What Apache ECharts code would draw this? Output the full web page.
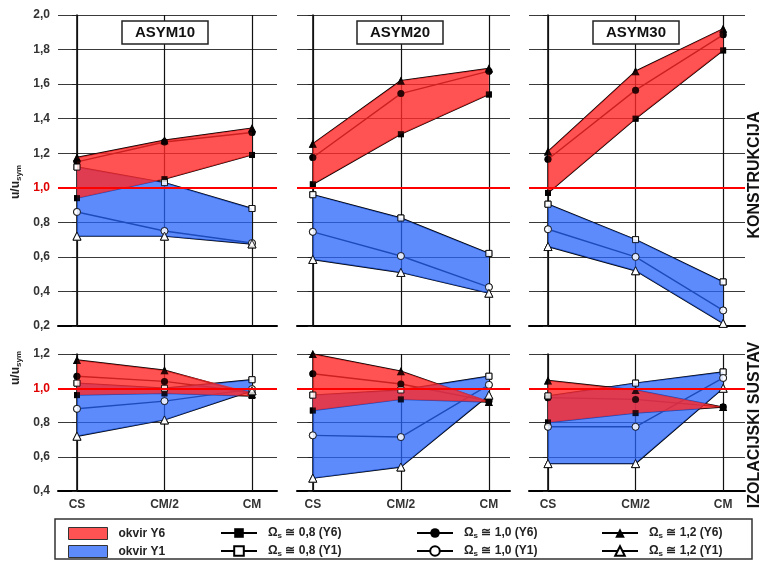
<!DOCTYPE html>
<html><head><meta charset="utf-8">
<script src="https://cdn.jsdelivr.net/npm/echarts@6/dist/echarts.min.js"></script>
<style>html,body{margin:0;padding:0;background:#fff}#c{width:762px;height:561px}</style>
</head><body><div id="c"></div>
<script>
// ---------- data ----------
const categories = ['CS', 'CM/2', 'CM'];
const panelTitles = ['ASYM10', 'ASYM20', 'ASYM30'];
const rowLabels = ['KONSTRUKCIJA', 'IZOLACIJSKI SUSTAV'];
const yTicksTop = [0.2, 0.4, 0.6, 0.8, 1.0, 1.2, 1.4, 1.6, 1.8, 2.0];
const yTicksBottom = [0.4, 0.6, 0.8, 1.0, 1.2];
const refValue = 1.0;
const namesY6 = ['Ωs ≅ 0,8 (Y6)', 'Ωs ≅ 1,0 (Y6)', 'Ωs ≅ 1,2 (Y6)'];
const namesY1 = ['Ωs ≅ 0,8 (Y1)', 'Ωs ≅ 1,0 (Y1)', 'Ωs ≅ 1,2 (Y1)'];
const bandNames = ['okvir Y6', 'okvir Y1'];

// KONSTRUKCIJA (top row)
const K10_Y6_08 = [0.94, 1.05, 1.19];
const K10_Y6_10 = [1.15, 1.265, 1.32];
const K10_Y6_12 = [1.175, 1.275, 1.345];
const K10_Y1_08 = [1.12, 1.03, 0.88];
const K10_Y1_10 = [0.86, 0.75, 0.68];
const K10_Y1_12 = [0.72, 0.72, 0.675];
const K20_Y6_08 = [1.02, 1.31, 1.54];
const K20_Y6_10 = [1.175, 1.545, 1.675];
const K20_Y6_12 = [1.255, 1.62, 1.69];
const K20_Y1_08 = [0.96, 0.825, 0.62];
const K20_Y1_10 = [0.745, 0.605, 0.425];
const K20_Y1_12 = [0.585, 0.51, 0.39];
const K30_Y6_08 = [0.97, 1.40, 1.795];
const K30_Y6_10 = [1.165, 1.565, 1.885];
const K30_Y6_12 = [1.21, 1.675, 1.92];
const K30_Y1_08 = [0.905, 0.70, 0.455];
const K30_Y1_10 = [0.76, 0.60, 0.29];
const K30_Y1_12 = [0.66, 0.52, 0.215];
// IZOLACIJSKI SUSTAV (bottom row)
const I10_Y6_08 = [0.96, 0.97, 0.955];
const I10_Y6_10 = [1.07, 1.04, 0.975];
const I10_Y6_12 = [1.165, 1.105, 0.965];
const I10_Y1_08 = [1.03, 1.0, 1.05];
const I10_Y1_10 = [0.88, 0.925, 0.995];
const I10_Y1_12 = [0.72, 0.815, 0.985];
const I20_Y6_08 = [0.87, 0.935, 0.92];
const I20_Y6_10 = [1.085, 1.025, 0.925];
const I20_Y6_12 = [1.2, 1.1, 0.92];
const I20_Y1_08 = [0.96, 0.99, 1.07];
const I20_Y1_10 = [0.725, 0.715, 1.02];
const I20_Y1_12 = [0.475, 0.54, 0.96];
const I30_Y6_08 = [0.80, 0.855, 0.89];
const I30_Y6_10 = [0.945, 0.935, 0.89];
const I30_Y6_12 = [1.045, 0.99, 0.89];
const I30_Y1_08 = [0.955, 1.03, 1.095];
const I30_Y1_10 = [0.775, 0.775, 1.06];
const I30_Y1_12 = [0.56, 0.56, 1.0];

// ---------- layout / style ----------
const FONT = "'Liberation Sans', Arial, sans-serif";
const RED = 'rgba(255,40,40,0.8)';
const BLUE = 'rgba(40,100,250,0.75)';
const shapes = ['rect', 'circle', 'triangle'];
const sizes = [6, 7, 8];
const grids = [
  {left: 58, top: 15, width: 219, height: 311},
  {left: 297, top: 15, width: 213, height: 311},
  {left: 529, top: 15, width: 216, height: 311},
  {left: 58, top: 354, width: 219, height: 137},
  {left: 297, top: 354, width: 213, height: 137},
  {left: 529, top: 354, width: 216, height: 137}
];
const xRanges = [[-0.217, 2.286], [-0.18, 2.24], [-0.217, 2.25]];

const panels = [
  {y6: [K10_Y6_08, K10_Y6_10, K10_Y6_12], y1: [K10_Y1_08, K10_Y1_10, K10_Y1_12]},
  {y6: [K20_Y6_08, K20_Y6_10, K20_Y6_12], y1: [K20_Y1_08, K20_Y1_10, K20_Y1_12]},
  {y6: [K30_Y6_08, K30_Y6_10, K30_Y6_12], y1: [K30_Y1_08, K30_Y1_10, K30_Y1_12]},
  {y6: [I10_Y6_08, I10_Y6_10, I10_Y6_12], y1: [I10_Y1_08, I10_Y1_10, I10_Y1_12]},
  {y6: [I20_Y6_08, I20_Y6_10, I20_Y6_12], y1: [I20_Y1_08, I20_Y1_10, I20_Y1_12]},
  {y6: [I30_Y6_08, I30_Y6_10, I30_Y6_12], y1: [I30_Y1_08, I30_Y1_10, I30_Y1_12]}
];

const catIdx = categories.map((c, i) => i);
const fmt = v => v.toFixed(1).replace('.', ',');

const xAxis = grids.map((g, i) => ({
  gridIndex: i, type: 'value', min: xRanges[i % 3][0], max: xRanges[i % 3][1],
  splitLine: {show: false},
  axisLine: {show: true, onZero: false, lineStyle: {color: '#000', width: 2}},
  axisTick: {show: true, customValues: catIdx, inside: true, length: g.height, lineStyle: {color: '#111', width: 1.2}},
  axisLabel: {show: i >= 3, customValues: catIdx, formatter: v => categories[Math.round(v)],
    fontFamily: FONT, fontWeight: 'bold', fontSize: 12, color: '#333', margin: 8}
}));

const yAxis = grids.map((g, i) => {
  const ticks = i < 3 ? yTicksTop : yTicksBottom;
  return {
    gridIndex: i, type: 'value', min: ticks[0], max: ticks[ticks.length - 1], interval: 0.2,
    axisLine: {show: true, lineStyle: {color: '#000', width: 1.5}},
    axisTick: {show: true, length: 5, lineStyle: {color: '#222'}},
    splitLine: {show: true, lineStyle: {color: '#3a3a3a', width: 1}},
    axisLabel: {show: i % 3 === 0, formatter: fmt, fontFamily: FONT, fontWeight: 'bold', fontSize: 12,
      margin: 8, color: v => (Math.abs(v - refValue) < 1e-6 ? '#e00000' : '#333')}
  };
});

function bandRender(col) {
  return (params, api) => {
    if (params.dataIndex !== 0) return null;
    const n = params.dataInsideLength;
    const up = [], dn = [];
    for (let j = 0; j < n; j++) {
      up.push(api.coord([api.value(0, j), api.value(2, j)]));
      dn.push(api.coord([api.value(0, j), api.value(1, j)]));
    }
    return {type: 'polygon', shape: {points: up.concat(dn.reverse())}, style: {fill: col}};
  };
}

const series = [];
panels.forEach((p, pi) => {
  const ax = {xAxisIndex: pi, yAxisIndex: pi};
  [['y6', namesY6, true], ['y1', namesY1, false]].forEach(([g, names, filled]) => {
    p[g].forEach((arr, k) => {
      const itemStyle = filled ? {color: '#000'} : {color: '#fff', borderColor: '#000', borderWidth: 1};
      const data = arr.map((v, i) => [i, v]);
      series.push({type: 'line', name: names[k], ...ax, z: 2, silent: true, animation: false, data,
        symbol: shapes[k], symbolSize: sizes[k], showSymbol: true,
        lineStyle: {color: '#000', width: 1.4}, itemStyle});
      series.push({type: 'scatter', name: names[k] + ' pts', ...ax, z: 5, silent: true, animation: false, data,
        symbol: shapes[k], symbolSize: sizes[k], itemStyle});
    });
  });
  [['y1', BLUE, bandNames[1], 3], ['y6', RED, bandNames[0], 4]].forEach(([g, col, nm, z]) => {
    const lo = catIdx.map(i => Math.min(...p[g].map(a => a[i])));
    const hi = catIdx.map(i => Math.max(...p[g].map(a => a[i])));
    series.push({type: 'custom', name: nm, ...ax, z, silent: true, animation: false,
      itemStyle: {color: col}, encode: {x: 0, y: [1, 2]},
      data: catIdx.map(i => [i, lo[i], hi[i]]), renderItem: bandRender(col)});
  });
  series.push({type: 'line', name: '_ref', ...ax, z: 6, silent: true, animation: false, data: [],
    markLine: {silent: true, symbol: 'none', z: 6, animation: false, label: {show: false},
      lineStyle: {color: '#ff0000', width: 2, type: 'solid'}, data: [{yAxis: refValue}]}});
});

const richLeg = {
  o: {fontFamily: FONT, fontWeight: 'bold', fontSize: 12, color: '#222'},
  s: {fontFamily: FONT, fontWeight: 'bold', fontSize: 8, color: '#222', padding: [6, 0, 0, 0]},
  t: {fontFamily: FONT, fontWeight: 'bold', fontSize: 12, color: '#222'}
};
const legFormatter = n => n.startsWith('Ωs') ? '{o|Ω}{s|s}{t|' + n.slice(2) + '}' : n;
function mkLegend(item, left, top, w, pad) {
  return {data: [item], left, top, itemWidth: w, itemHeight: 12, selectedMode: false, padding: 0,
    formatter: legFormatter,
    textStyle: {fontFamily: FONT, fontWeight: 'bold', fontSize: 12, color: '#222', padding: [0, 0, 0, pad], rich: richLeg}};
}
const legend = [
  mkLegend({name: bandNames[0], icon: 'rect', itemStyle: {borderColor: '#333', borderWidth: 1}}, 68, 527, 39, 6),
  mkLegend({name: bandNames[1], icon: 'rect', itemStyle: {borderColor: '#333', borderWidth: 1}}, 68, 545, 39, 6),
  mkLegend(namesY6[0], 220, 527, 36, 6), mkLegend(namesY1[0], 220, 545, 36, 6),
  mkLegend(namesY6[1], 416, 527, 36, 6), mkLegend(namesY1[1], 416, 545, 36, 6),
  mkLegend(namesY6[2], 601, 527, 36, 6), mkLegend(namesY1[2], 601, 545, 36, 6)
];

const title = panelTitles.map((t, i) => ({
  text: t, left: [122, 357, 593][i], top: 21, padding: [4, 13],
  borderColor: '#222', borderWidth: 1.5, backgroundColor: '#fff',
  textStyle: {fontFamily: FONT, fontWeight: 'bold', fontSize: 15, color: '#111'}
}));

const axisNameRich = {
  a: {fontFamily: FONT, fontWeight: 'bold', fontSize: 12, fill: '#222'},
  b: {fontFamily: FONT, fontWeight: 'bold', fontSize: 8, fill: '#222', padding: [6, 0, 0, 0]}
};
const graphic = [
  {type: 'rect', z: 0, shape: {x: 55, y: 519, width: 697, height: 40}, style: {fill: 'none', stroke: '#333', lineWidth: 1.5}},
  {type: 'text', x: 16, y: 182, rotation: Math.PI / 2, style: {text: '{a|u/u}{b|sym}', rich: axisNameRich, align: 'center', verticalAlign: 'middle'}},
  {type: 'text', x: 16, y: 368, rotation: Math.PI / 2, style: {text: '{a|u/u}{b|sym}', rich: axisNameRich, align: 'center', verticalAlign: 'middle'}},
  {type: 'text', x: 755, y: 175, rotation: Math.PI / 2, style: {text: rowLabels[0], font: "bold 16px 'Liberation Sans', Arial", fill: '#111', align: 'center', verticalAlign: 'middle'}},
  {type: 'text', x: 755, y: 425, rotation: Math.PI / 2, style: {text: rowLabels[1], font: "bold 16px 'Liberation Sans', Arial", fill: '#111', align: 'center', verticalAlign: 'middle'}}
];

const chart = echarts.init(document.getElementById('c'), null, {renderer: 'canvas'});
chart.setOption({
  animation: false, backgroundColor: '#fff',
  grid: grids, xAxis, yAxis, series, legend, title, graphic
});
</script></body></html>
